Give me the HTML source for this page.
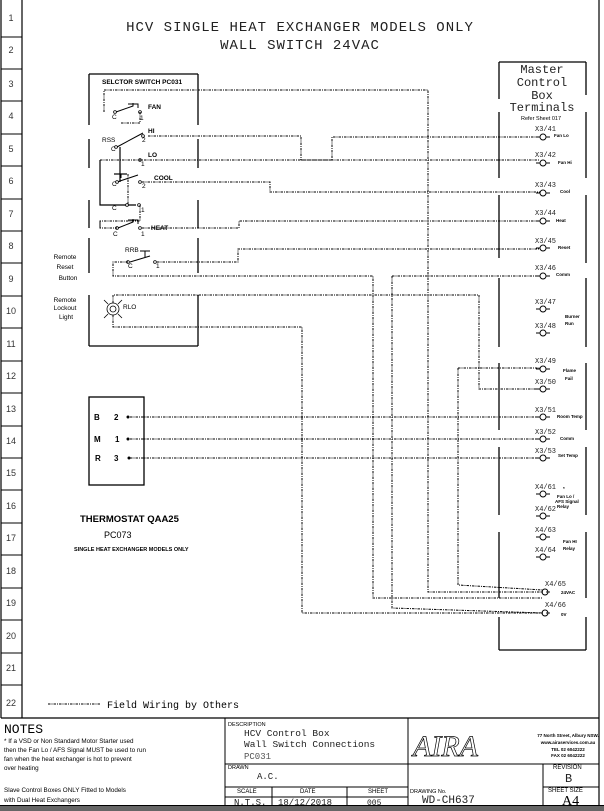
<!DOCTYPE html>
<html><head><meta charset="utf-8"><style>
body{margin:0;background:#fff}
svg{display:block;font-family:"Liberation Sans",sans-serif}
</style></head><body>
<svg width="604" height="811" viewBox="0 0 604 811" xmlns="http://www.w3.org/2000/svg">
<rect x="0" y="0" width="604" height="811" fill="#fff"/>
<!-- borders -->
<g stroke="#000" fill="none" stroke-width="1.2">
<line x1="1" y1="0" x2="1" y2="718"/>
<line x1="22" y1="0" x2="22" y2="718"/>
<line x1="599" y1="0" x2="599" y2="806"/>
<line x1="1" y1="718" x2="599" y2="718"/>
</g>
<g stroke="#000" stroke-width="1">
<line x1="1" y1="37" x2="22" y2="37"/><line x1="1" y1="69" x2="22" y2="69"/><line x1="1" y1="101" x2="22" y2="101"/>
<line x1="1" y1="134" x2="22" y2="134"/><line x1="1" y1="166" x2="22" y2="166"/><line x1="1" y1="199" x2="22" y2="199"/>
<line x1="1" y1="231" x2="22" y2="231"/><line x1="1" y1="263" x2="22" y2="263"/><line x1="1" y1="296" x2="22" y2="296"/>
<line x1="1" y1="328" x2="22" y2="328"/><line x1="1" y1="361" x2="22" y2="361"/><line x1="1" y1="393" x2="22" y2="393"/>
<line x1="1" y1="426" x2="22" y2="426"/><line x1="1" y1="458" x2="22" y2="458"/><line x1="1" y1="490" x2="22" y2="490"/>
<line x1="1" y1="523" x2="22" y2="523"/><line x1="1" y1="555" x2="22" y2="555"/><line x1="1" y1="588" x2="22" y2="588"/>
<line x1="1" y1="620" x2="22" y2="620"/><line x1="1" y1="653" x2="22" y2="653"/><line x1="1" y1="685" x2="22" y2="685"/>
</g>
<g font-size="9" fill="#333" text-anchor="middle">
<text x="11" y="21">1</text><text x="11" y="53">2</text><text x="11" y="87">3</text><text x="11" y="119">4</text>
<text x="11" y="152">5</text><text x="11" y="184">6</text><text x="11" y="217">7</text><text x="11" y="249">8</text>
<text x="11" y="282">9</text><text x="11" y="314">10</text><text x="11" y="347">11</text><text x="11" y="379">12</text>
<text x="11" y="412">13</text><text x="11" y="444">14</text><text x="11" y="476">15</text><text x="11" y="509">16</text>
<text x="11" y="541">17</text><text x="11" y="574">18</text><text x="11" y="606">19</text><text x="11" y="639">20</text>
<text x="11" y="671">21</text><text x="11" y="706">22</text>
</g>
<!-- header -->
<g font-family="Liberation Mono,monospace" font-size="14" text-anchor="middle" fill="#222">
<text x="300" y="31" letter-spacing="1">HCV SINGLE HEAT EXCHANGER MODELS ONLY</text>
<text x="300" y="49" letter-spacing="1">WALL SWITCH 24VAC</text>
</g>
<!-- selector switch box -->
<g stroke="#000" stroke-width="1.3">
<line x1="89" y1="74" x2="198" y2="74"/>
<line x1="89" y1="74" x2="89" y2="125"/><line x1="89" y1="139" x2="89" y2="168"/><line x1="89" y1="200" x2="89" y2="228"/><line x1="89" y1="238" x2="89" y2="273"/><line x1="89" y1="295" x2="89" y2="346"/>
<line x1="198" y1="74" x2="198" y2="125"/><line x1="198" y1="139" x2="198" y2="168"/><line x1="198" y1="200" x2="198" y2="228"/><line x1="198" y1="238" x2="198" y2="273"/><line x1="198" y1="295" x2="198" y2="346"/>
<line x1="89" y1="346" x2="198" y2="346"/>
</g>
<text x="102" y="84" font-size="6.5" font-weight="bold">SELCTOR SWITCH PC031</text>
<!-- switches -->
<g stroke="#000" stroke-width="1" fill="none">
<path d="M116,112 L133,106 L133,103 M128,104 L138,104 L138,108"/>
<path d="M117,147 L143,133"/>
<path d="M117,182 L138,175 M121,178 L121,174 L127,174"/>
<path d="M118,228 L133,222 L133,219 M128,220 L138,220 L138,224"/>
<path d="M130,262 L150,256 M145,251 L145,257 M140,251 L150,251"/>
<path d="M120,182 L120,160 L120,147" stroke-width="1.2"/>
<path d="M100,160 L100,205 L136,205" stroke-width="1.2"/>
<path d="M114,174 L127,174" stroke-width="1.2"/>
</g>
<g fill="#fff" stroke="#000" stroke-width="0.8">
<circle cx="115" cy="112" r="1.4"/><circle cx="140" cy="112" r="1.4"/>
<circle cx="116" cy="147" r="1.4"/><circle cx="143" cy="136" r="1.4"/><circle cx="140" cy="160" r="1.4"/>
<circle cx="117" cy="182" r="1.4"/><circle cx="140" cy="182" r="1.4"/>
<circle cx="127" cy="205" r="1.4"/><circle cx="139" cy="205" r="1.4"/>
<circle cx="117" cy="228" r="1.4"/><circle cx="140" cy="228" r="1.4"/>
<circle cx="128" cy="262" r="1.4"/><circle cx="155" cy="262" r="1.4"/>
</g>
<g font-size="6.5" fill="#000">
<text x="148" y="109" font-weight="bold">FAN</text><text x="112" y="119">C</text><text x="140" y="120">1</text>
<text x="102" y="142">RSS</text><text x="148" y="133" font-weight="bold">HI</text><text x="111" y="151">C</text><text x="142" y="142">2</text>
<text x="148" y="157" font-weight="bold">LO</text><text x="141" y="166">1</text>
<text x="154" y="180" font-weight="bold">COOL</text><text x="112" y="186">C</text><text x="142" y="188">2</text>
<text x="112" y="210">C</text><text x="141" y="212">1</text>
<text x="151" y="230" font-weight="bold">HEAT</text><text x="113" y="236">C</text><text x="141" y="236">1</text>
<text x="125" y="252">RRB</text><text x="128" y="268">C</text><text x="156" y="268">1</text>
<text x="123" y="309">RLO</text>
</g>
<!-- lamp -->
<g stroke="#000" stroke-width="0.8" fill="none">
<circle cx="113" cy="309" r="6"/><circle cx="113" cy="309" r="3"/>
<path d="M104,300 L108,304 M122,300 L118,304 M104,318 L108,314 M122,318 L118,314"/>
</g>
<g font-size="6.5" fill="#000" text-anchor="middle">
<text x="65" y="259">Remote</text><text x="65" y="269">Reset</text><text x="68" y="280">Button</text>
<text x="65" y="302">Remote</text><text x="65" y="310">Lockout</text><text x="66" y="319">Light</text>
</g>
<!-- thermostat -->
<rect x="89" y="397" width="55" height="88" fill="none" stroke="#000" stroke-width="1.3"/>
<g font-size="8" font-weight="bold" fill="#000">
<text x="94" y="420">B</text><text x="114" y="420">2</text>
<text x="94" y="442">M</text><text x="115" y="442">1</text>
<text x="95" y="461">R</text><text x="114" y="461">3</text>
<text x="80" y="522" font-size="9.5">THERMOSTAT QAA25</text>
<text x="104" y="538" font-size="9" font-weight="normal">PC073</text>
<text x="74" y="551" font-size="5.5">SINGLE HEAT EXCHANGER MODELS ONLY</text>
</g>
<g fill="#000"><circle cx="128" cy="417" r="1.5"/><circle cx="128" cy="439" r="1.5"/><circle cx="129" cy="458" r="1.5"/></g>
<!-- dashed wiring -->
<g stroke="#000" stroke-width="1" fill="none" stroke-dasharray="2.5,1,1,1">
<path d="M104,112 L104,90 L428,90 L428,592 L543,592"/>
<path d="M140,112 L140,123 L120,123"/>
<path d="M148,136 L301,136 L301,160"/>
<path d="M100,160 L540,160"/>
<path d="M301,160 L332,160 L332,137 L540,137"/>
<path d="M142,182 L270,182 L270,192 L540,192"/>
<path d="M128,174 L128,205"/>
<path d="M100,228 L100,221 L140,221 L140,205"/>
<path d="M100,221 L100,228 L117,228"/>
<path d="M142,228 L239,228 L239,221 L540,221"/>
<path d="M157,262 L238,262 L238,249 L540,249"/>
<path d="M128,262 L113,262 L113,276 L373,276 L373,598 L543,598"/>
<path d="M392,276 L540,276"/>
<path d="M392,276 L392,608 L543,613"/>
<path d="M113,303 L113,295 L479,295 L479,389 L540,389"/>
<path d="M113,315 L113,327 L302,327 L302,613 L543,613"/>
<path d="M458,368 L540,368"/>
<path d="M458,368 L458,585 L543,590"/>
<path d="M130,417 L540,417"/>
<path d="M130,439 L540,439"/>
<path d="M130,458 L540,458"/>
<path d="M48,704 L100,704"/>
</g>
<text x="107" y="708" font-size="10" font-family="Liberation Mono,monospace">Field Wiring by Others</text>
<!-- master box -->
<g stroke="#000" stroke-width="1.3">
<line x1="499" y1="62" x2="586" y2="62"/>
<line x1="499" y1="62" x2="499" y2="99"/><line x1="499" y1="112" x2="499" y2="178"/><line x1="499" y1="195" x2="499" y2="258"/><line x1="499" y1="278" x2="499" y2="347"/>
<line x1="499" y1="363" x2="499" y2="430"/><line x1="499" y1="447" x2="499" y2="515"/><line x1="499" y1="532" x2="499" y2="598"/><line x1="499" y1="617" x2="499" y2="650"/>
<line x1="586" y1="62" x2="586" y2="95"/><line x1="586" y1="112" x2="586" y2="178"/><line x1="586" y1="195" x2="586" y2="263"/><line x1="586" y1="278" x2="586" y2="347"/>
<line x1="586" y1="363" x2="586" y2="430"/><line x1="586" y1="447" x2="586" y2="515"/><line x1="586" y1="532" x2="586" y2="598"/><line x1="586" y1="617" x2="586" y2="650"/>
<line x1="499" y1="650" x2="586" y2="650"/>
</g>
<g font-family="Liberation Mono,monospace" font-size="12" text-anchor="middle" fill="#222">
<rect x="504" y="97" width="80" height="14" fill="#fff"/>
<text x="542" y="73">Master</text><text x="542" y="86">Control</text><text x="542" y="99">Box</text><text x="542" y="111">Terminals</text>
</g>
<text x="541" y="120" font-size="5.5" text-anchor="middle">Refer Sheet 017</text>
<!-- terminals -->
<g stroke="#000" stroke-width="0.9" fill="#fff">
<g id="t">
</g>
</g>
<g font-size="7" font-family="Liberation Mono,monospace" fill="#222">
<text x="535" y="131">X3/41</text><text x="535" y="157">X3/42</text><text x="535" y="187">X3/43</text><text x="535" y="215">X3/44</text>
<text x="535" y="243">X3/45</text><text x="535" y="270">X3/46</text><text x="535" y="304">X3/47</text><text x="535" y="328">X3/48</text>
<text x="535" y="363">X3/49</text><text x="535" y="384">X3/50</text><text x="535" y="412">X3/51</text><text x="535" y="434">X3/52</text>
<text x="535" y="453">X3/53</text><text x="535" y="489">X4/61</text><text x="535" y="511">X4/62</text><text x="535" y="532">X4/63</text>
<text x="535" y="552">X4/64</text><text x="545" y="586">X4/65</text><text x="545" y="607">X4/66</text>
</g>
<g stroke="#000" stroke-width="0.9" fill="none">
<path d="M536,137h4m6,0h4"/><circle cx="543" cy="137" r="3"/>
<path d="M536,163h4m6,0h4"/><circle cx="543" cy="163" r="3"/>
<path d="M536,193h4m6,0h4"/><circle cx="543" cy="193" r="3"/>
<path d="M536,221h4m6,0h4"/><circle cx="543" cy="221" r="3"/>
<path d="M536,248h4m6,0h4"/><circle cx="543" cy="248" r="3"/>
<path d="M536,276h4m6,0h4"/><circle cx="543" cy="276" r="3"/>
<path d="M536,309h4m6,0h4"/><circle cx="543" cy="309" r="3"/>
<path d="M536,333h4m6,0h4"/><circle cx="543" cy="333" r="3"/>
<path d="M536,369h4m6,0h4"/><circle cx="543" cy="369" r="3"/>
<path d="M536,389h4m6,0h4"/><circle cx="543" cy="389" r="3"/>
<path d="M536,417h4m6,0h4"/><circle cx="543" cy="417" r="3"/>
<path d="M536,439h4m6,0h4"/><circle cx="543" cy="439" r="3"/>
<path d="M536,458h4m6,0h4"/><circle cx="543" cy="458" r="3"/>
<path d="M536,494h4m6,0h4"/><circle cx="543" cy="494" r="3"/>
<path d="M536,516h4m6,0h4"/><circle cx="543" cy="516" r="3"/>
<path d="M536,537h4m6,0h4"/><circle cx="543" cy="537" r="3"/>
<path d="M536,557h4m6,0h4"/><circle cx="543" cy="557" r="3"/>
<path d="M540,592h0m6,0h4"/><circle cx="545" cy="592" r="3"/>
<path d="M540,613h0m6,0h4"/><circle cx="545" cy="613" r="3"/>
</g>
<g font-size="4.5" font-weight="bold" fill="#000">
<text x="554" y="137">Fan Lo</text><text x="558" y="164">Fan Hi</text><text x="560" y="193">Cool</text>
<text x="556" y="222">Heat</text><text x="558" y="249">Reset</text><text x="556" y="276">Comm</text>
<text x="565" y="318">Burner</text><text x="565" y="325">Run</text>
<text x="563" y="372">Flame</text><text x="565" y="380">Fail</text>
<text x="557" y="418">Room Temp</text><text x="560" y="440">Comm</text><text x="558" y="457">Set Temp</text>
<text x="563" y="490">*</text><text x="557" y="498">Fan Lo /</text><text x="555" y="503">AFS Signal</text><text x="557" y="508">Relay</text>
<text x="563" y="543">Fan HI</text><text x="563" y="550">Relay</text>
<text x="561" y="594">24VAC</text><text x="561" y="616">0V</text>
</g>
<!-- title block -->
<g stroke="#000" stroke-width="1" fill="none">
<line x1="225" y1="718" x2="225" y2="806"/>
<line x1="408" y1="718" x2="408" y2="806"/>
<line x1="543" y1="764" x2="543" y2="806"/>
<line x1="225" y1="764" x2="599" y2="764"/>
<line x1="225" y1="787" x2="408" y2="787"/>
<line x1="225" y1="797" x2="408" y2="797"/>
<line x1="543" y1="787" x2="599" y2="787"/>
<line x1="272" y1="787" x2="272" y2="806"/>
<line x1="347" y1="787" x2="347" y2="806"/>
<line x1="0" y1="806" x2="604" y2="806" stroke-width="2"/>
</g>
<rect x="0" y="806" width="604" height="5" fill="#666"/>
<text x="4" y="733" font-size="13" font-family="Liberation Mono,monospace">NOTES</text>
<g font-size="6.3" fill="#000">
<text x="4" y="743">* If a VSD or Non Standard Motor Starter used</text>
<text x="4" y="752">then the Fan Lo / AFS Signal MUST be used to run</text>
<text x="4" y="761">fan when the heat exchanger is hot to prevent</text>
<text x="4" y="770">over heating</text>
<text x="4" y="792">Slave Control Boxes ONLY Fitted to Models</text>
<text x="4" y="802">with Dual Heat Exchangers</text>
<text x="228" y="726" font-size="5.5">DESCRIPTION</text>
<text x="228" y="769" font-size="5.5">DRAWN</text>
<text x="237" y="793" font-size="6">SCALE</text><text x="300" y="793" font-size="6">DATE</text><text x="368" y="793" font-size="6">SHEET</text>
<text x="410" y="793" font-size="5.5">DRAWING No.</text>
<text x="553" y="769" font-size="6">REVISION</text><text x="548" y="792" font-size="6">SHEET SIZE</text>
</g>
<g font-family="Liberation Mono,monospace" fill="#222">
<text x="244" y="736" font-size="9.5">HCV Control Box</text>
<text x="244" y="747" font-size="9.5">Wall Switch Connections</text>
<text x="244" y="759" font-size="9" fill="#555">PC031</text>
<text x="257" y="779" font-size="9">A.C.</text>
<text x="234" y="805" font-size="9">N.T.S.</text>
<text x="278" y="805" font-size="9">18/12/2018</text>
<text x="367" y="805" font-size="8">005</text>
<text x="422" y="803" font-size="11">WD-CH637</text>
<text x="565" y="782" font-size="12">B</text>
</g>
<text x="413" y="756" font-size="30" font-family="Liberation Serif,serif" font-style="italic" fill="none" stroke="#000" stroke-width="0.7">AIRA</text>
<g font-size="4.5" font-weight="bold" text-anchor="middle">
<text x="568" y="737">77 North Street, Albury NSW.</text>
<text x="568" y="744">www.airaservices.com.au</text>
<text x="568" y="751">TEL 02 6042222</text>
<text x="568" y="757">FAX 02 6042222</text>
</g>
<text x="562" y="805" font-size="14" font-family="Liberation Serif,serif">A4</text>
</svg>
</body></html>
